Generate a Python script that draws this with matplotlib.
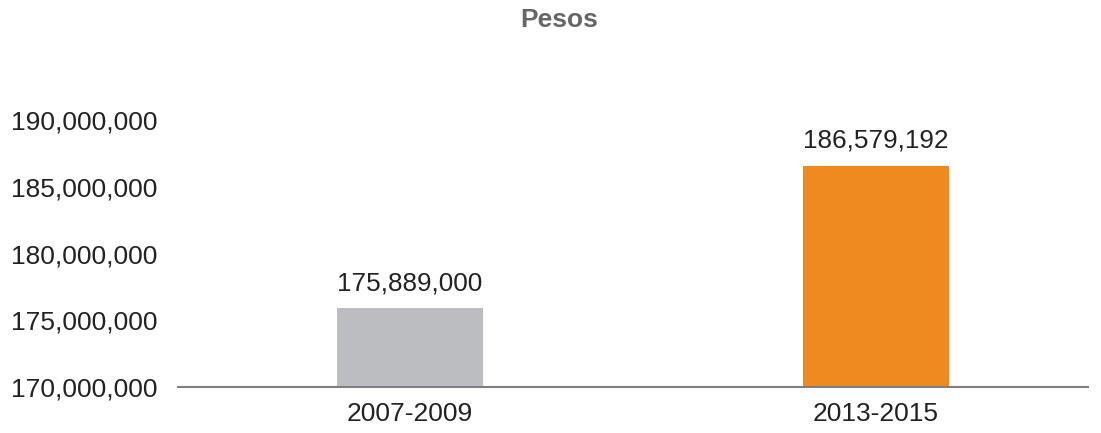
import matplotlib.pyplot as plt
from matplotlib.ticker import FuncFormatter

plt.rcParams['font.family'] = ['Liberation Sans', 'DejaVu Sans']

periods = ['2007-2009', '2013-2015']
values = [175889000, 186579192]
bar_colors = ['#bcbdc0', '#ee8a1f']
yticks = [170000000, 175000000, 180000000, 185000000, 190000000]

fig = plt.figure(figsize=(11.01, 4.33), dpi=100)
ax = fig.add_axes([178 / 1101, 46 / 433, 910 / 1101, 267 / 433])

x = range(len(periods))
ax.bar(x, values, width=0.313, color=bar_colors, zorder=2)

for i, v in zip(x, values):
    ax.text(i, v + 1000000, f'{v:,}', ha='center', va='bottom',
            fontsize=18.8, color='#222222')

ax.set_ylim(170000000, 190000000)
ax.set_xlim(-0.498, 1.455)
ax.set_yticks(yticks)
ax.yaxis.set_major_formatter(FuncFormatter(lambda v, p: f'{int(v):,}'))
ax.set_xticks(list(x))
ax.set_xticklabels(periods)
ax.tick_params(axis='both', length=0, labelsize=19, colors='#222222')
ax.tick_params(axis='y', pad=15)
ax.tick_params(axis='x', pad=11)

for side in ['top', 'right', 'left']:
    ax.spines[side].set_visible(False)
ax.spines['bottom'].set_color('#7f7f7f')
ax.spines['bottom'].set_linewidth(1.5)

fig.text(559 / 1101, 1 - 20 / 433, 'Pesos', ha='center', va='center',
         fontsize=19, fontweight='bold', color='#666666')

fig.savefig('out.png', dpi=100)
